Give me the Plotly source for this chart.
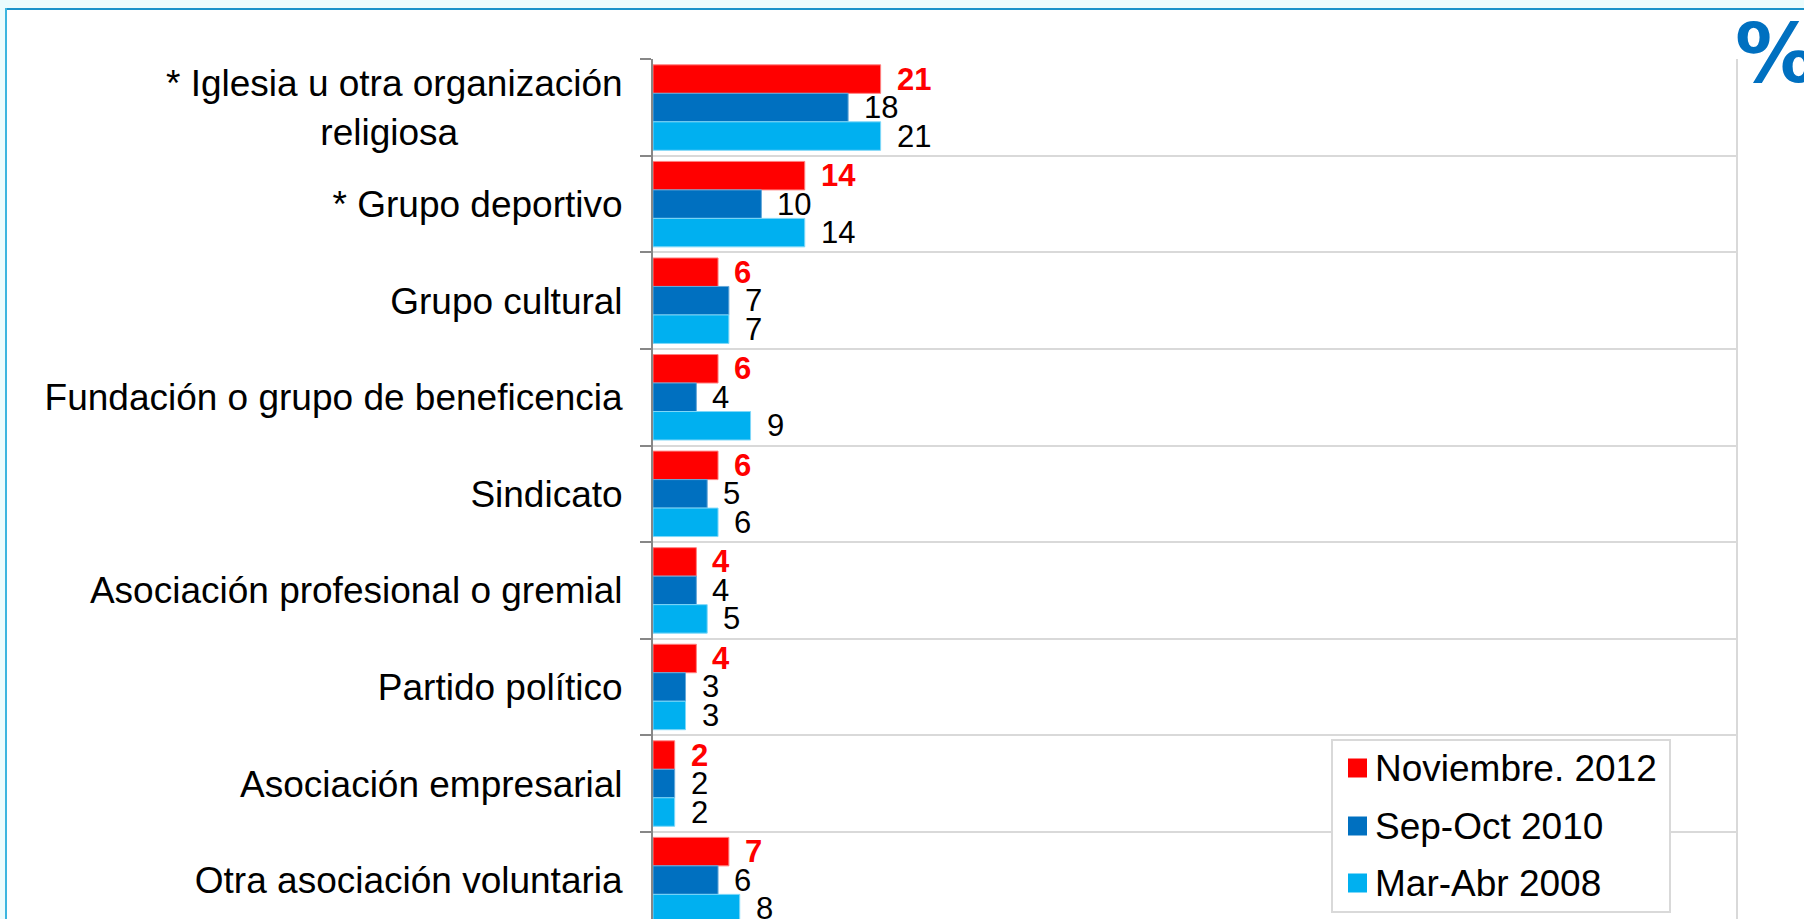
import plotly.graph_objects as go

# Survey categories (top to bottom) and the share of respondents per wave
categories = [
    "* Iglesia u otra organización\nreligiosa",
    "* Grupo deportivo",
    "Grupo cultural",
    "Fundación o grupo de beneficencia",
    "Sindicato",
    "Asociación profesional o gremial",
    "Partido político",
    "Asociación empresarial",
    "Otra asociación voluntaria",
]
series_names = ["Noviembre. 2012", "Sep-Oct 2010", "Mar-Abr 2008"]
nov_2012 = [21, 14, 6, 6, 6, 4, 4, 2, 7]
sep_oct_2010 = [18, 10, 7, 4, 5, 4, 3, 2, 6]
mar_abr_2008 = [21, 14, 7, 9, 6, 5, 3, 2, 8]

series_values = [nov_2012, sep_oct_2010, mar_abr_2008]
bar_colors = ["#ff0000", "#0070c0", "#00b0f0"]
edge_colors = ["#ff8080", "#66a9d9", "#80d8f8"]
label_colors = ["#ff0000", "#000000", "#000000"]
label_bold = [True, False, False]

W, H = 1804, 919
L, R, T, B = 653, 1737, 59, 919
PW, PH = R - L, B - T
BAND = 96.6
BARGAP = 0.115
FONT = "Liberation Sans, Arial, sans-serif"


def xp(px):
    return (px - L) / PW


def yp(py):
    return (B - py) / PH


def tick_label(name):
    # two-line label: pad the short second line so it sits centred under the first
    if "\n" in name:
        first, second = name.split("\n")
        return first + "<br>" + second + "\u00a0" * 16
    return name


tick_text = [tick_label(c) for c in categories]

fig = go.Figure()
for name, vals, col, edge in zip(series_names, series_values, bar_colors, edge_colors):
    fig.add_trace(go.Bar(
        y=categories, x=vals, name=name, orientation="h",
        marker=dict(color=col, line=dict(color=edge, width=1)),
        showlegend=False, hoverinfo="x+y",
    ))

# value labels just past the end of each bar
bar_w = (1 - BARGAP) / 3
annotations = []
for j, vals in enumerate(series_values):
    for i, v in enumerate(vals):
        txt = f"<b>{v}</b>" if label_bold[j] else str(v)
        annotations.append(dict(
            x=v, y=i + (j - 1) * bar_w, xref="x", yref="y",
            text=txt, showarrow=False, xanchor="left", yanchor="middle",
            xshift=14, font=dict(family=FONT, size=31, color=label_colors[j]),
        ))

# percent marker in the top-right corner
annotations.append(dict(
    x=xp(1733), y=yp(54), xref="paper", yref="paper", text="<b>%</b>",
    showarrow=False, xanchor="left", yanchor="middle",
    font=dict(family="DejaVu Sans, Verdana, sans-serif", size=82, color="#0070c0"),
))

# legend entries
legend_rows = [768, 826, 883]
shapes = []
for name, col, cy in zip(series_names, bar_colors, legend_rows):
    shapes.append(dict(type="rect", xref="paper", yref="paper",
                       x0=xp(1348), x1=xp(1367), y0=yp(cy + 9.5), y1=yp(cy - 9.5),
                       fillcolor=col, line=dict(width=0), layer="above"))
    annotations.append(dict(
        x=xp(1373), y=yp(cy), xref="paper", yref="paper", text=name,
        showarrow=False, xanchor="left", yanchor="middle",
        font=dict(family=FONT, size=37, color="#000000"),
    ))

frame = [
    # legend box
    dict(type="rect", xref="paper", yref="paper", x0=xp(1332), x1=xp(1670),
         y0=yp(912), y1=yp(740), fillcolor="#ffffff",
         line=dict(color="#d9d9d9", width=2), layer="above"),
    # outer page tint and frame
    dict(type="rect", xref="paper", yref="paper", x0=xp(0), x1=xp(W),
         y0=yp(8), y1=yp(0), fillcolor="#ebfcfd", line=dict(width=0), layer="above"),
    dict(type="rect", xref="paper", yref="paper", x0=xp(0), x1=xp(5),
         y0=yp(H), y1=yp(8), fillcolor="#ebfcfd", line=dict(width=0), layer="above"),
    dict(type="line", xref="paper", yref="paper", x0=xp(5), x1=xp(W),
         y0=yp(9), y1=yp(9), line=dict(color="#1a93ca", width=2), layer="above"),
    dict(type="line", xref="paper", yref="paper", x0=xp(6), x1=xp(6),
         y0=yp(H), y1=yp(8), line=dict(color="#3cb6df", width=2), layer="above"),
    # right edge of the plotting area
    dict(type="line", xref="paper", yref="paper", x0=1, x1=1, y0=0, y1=1,
         line=dict(color="#d9d9d9", width=2), layer="below"),
]
shapes = frame[:1] + shapes + frame[1:]

visible_cats = PH / BAND
fig.update_layout(
    width=W, height=H,
    margin=dict(l=L, r=W - R, t=T, b=H - B, pad=0),
    paper_bgcolor="#ffffff", plot_bgcolor="#ffffff",
    barmode="group", bargap=BARGAP, bargroupgap=0,
    font=dict(family=FONT, color="#000000"),
    showlegend=False,
    xaxis=dict(range=[0, 100], showticklabels=False, showgrid=False,
               zeroline=False, showline=False, ticks="", automargin=False,
               fixedrange=True),
    yaxis=dict(
        type="category", categoryorder="array", categoryarray=categories,
        range=[-0.5 + visible_cats, -0.503],
        tickmode="array", tickvals=categories, ticktext=tick_text,
        tickson="boundaries", ticks="outside", ticklen=11, tickwidth=2,
        tickcolor="#878787", showline=True, linecolor="#878787", linewidth=2,
        showgrid=True, gridcolor="#d9d9d9", gridwidth=2,
        tickfont=dict(family=FONT, size=37, color="#000000"),
        ticklabelstandoff=21, automargin=False, fixedrange=True,
    ),
    shapes=shapes,
    annotations=annotations,
)

fig.write_html("out.html")
